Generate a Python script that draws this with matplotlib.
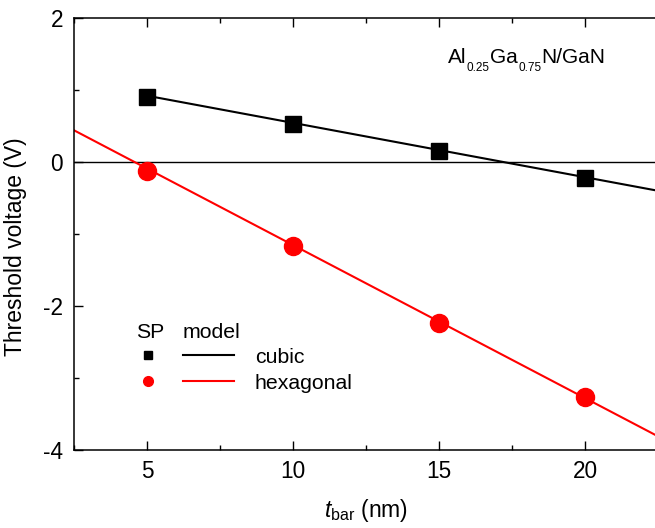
import matplotlib
matplotlib.use("Agg")
import matplotlib.pyplot as plt
from matplotlib.lines import Line2D
from matplotlib.legend_handler import HandlerTuple
from matplotlib.ticker import MultipleLocator

plt.rcParams['font.family'] = ['Liberation Sans', 'DejaVu Sans']
plt.rcParams['mathtext.fontset'] = 'custom'
plt.rcParams['mathtext.rm'] = 'Liberation Sans'
plt.rcParams['mathtext.it'] = 'Liberation Sans:italic'
plt.rcParams['axes.unicode_minus'] = False
plt.rcParams['font.size'] = 15.3

# SP results (symbols)
t_bar = [5, 10, 15, 20]
cubic_sp = [0.90, 0.53, 0.15, -0.22]
hex_sp = [-0.12, -1.17, -2.23, -3.26]

# model lines
cubic_model_x = [5, 22.5]
cubic_model_y = [0.92, -0.40]
hex_model_x = [2.5, 22.5]
hex_model_y = [0.44, -3.81]

fig = plt.figure(figsize=(6.55, 5.28), dpi=100)
ax = fig.add_axes([0.113, 0.1477, 0.8916, 0.8183])

ax.axhline(0, color='black', lw=1.0, zorder=1)
ax.plot(cubic_model_x, cubic_model_y, color='black', lw=1.5, zorder=2)
ax.plot(hex_model_x, hex_model_y, color='red', lw=1.5, zorder=2)
ax.plot(t_bar, cubic_sp, ls='none', marker='s', ms=11.5, color='black', zorder=3)
ax.plot(t_bar, hex_sp, ls='none', marker='o', ms=13, color='red', zorder=3)

ax.set_xlim(2.5, 22.5)
ax.set_ylim(-4, 2)
ax.xaxis.set_major_locator(MultipleLocator(5))
ax.xaxis.set_minor_locator(MultipleLocator(2.5))
ax.yaxis.set_major_locator(MultipleLocator(2))
ax.yaxis.set_minor_locator(MultipleLocator(1))
ax.tick_params(which='both', direction='in', top=True, right=False, width=1.0,
               labelsize=16.3)
ax.tick_params(which='major', length=6.5)
ax.tick_params(which='minor', length=3.5)
ax.tick_params(axis='x', which='major', pad=7)
ax.tick_params(axis='y', which='major', pad=8)
for s in ax.spines.values():
    s.set_linewidth(1.1)

ax.set_xlabel(r"$t_{\mathrm{bar}}$ (nm)", fontsize=16.5, labelpad=10)
ax.set_ylabel("Threshold voltage (V)", fontsize=16.5)
ax.yaxis.set_label_coords(-0.08, 0.47)

# Al0.25Ga0.75N/GaN, built from pieces so the subscripts sit low and small
sub = 8.5
t1 = ax.text(0.640, 0.895, "Al", transform=ax.transAxes, ha='left', va='baseline', fontsize=15)
t2 = ax.annotate("0.25", xy=(1, 0), xycoords=(t1, t1), xytext=(0.5, 3.5),
                 textcoords='offset points', ha='left', va='top', fontsize=sub)
t3 = ax.annotate("Ga", xy=(1, 0), xycoords=(t2, t1), xytext=(0, 0),
                 textcoords='offset points', ha='left', va='bottom', fontsize=15)
t4 = ax.annotate("0.75", xy=(1, 0), xycoords=(t3, t1), xytext=(0.5, 3.5),
                 textcoords='offset points', ha='left', va='top', fontsize=sub)
t5 = ax.annotate("N/GaN", xy=(1, 0), xycoords=(t4, t1), xytext=(0, 0),
                 textcoords='offset points', ha='left', va='bottom', fontsize=15)

sq = Line2D([], [], ls='none', marker='s', ms=6, color='black')
ci = Line2D([], [], ls='none', marker='o', ms=7, color='red')
lb = Line2D([], [], color='black', lw=1.5)
lr = Line2D([], [], color='red', lw=1.5)
leg = ax.legend([(sq, lb), (ci, lr)], ["cubic", "hexagonal"],
                handler_map={tuple: HandlerTuple(ndivide=None, pad=0.47)},
                handlelength=5.2, handletextpad=1.0, labelspacing=0.33,
                borderpad=0, borderaxespad=0,
                frameon=False, loc='center left', bbox_to_anchor=(0.084, 0.185))
ax.text(0.130, 0.273, "SP", transform=ax.transAxes, ha='center', va='center')
ax.text(0.235, 0.273, "model", transform=ax.transAxes, ha='center', va='center')

fig.savefig("out.png", dpi=100)
